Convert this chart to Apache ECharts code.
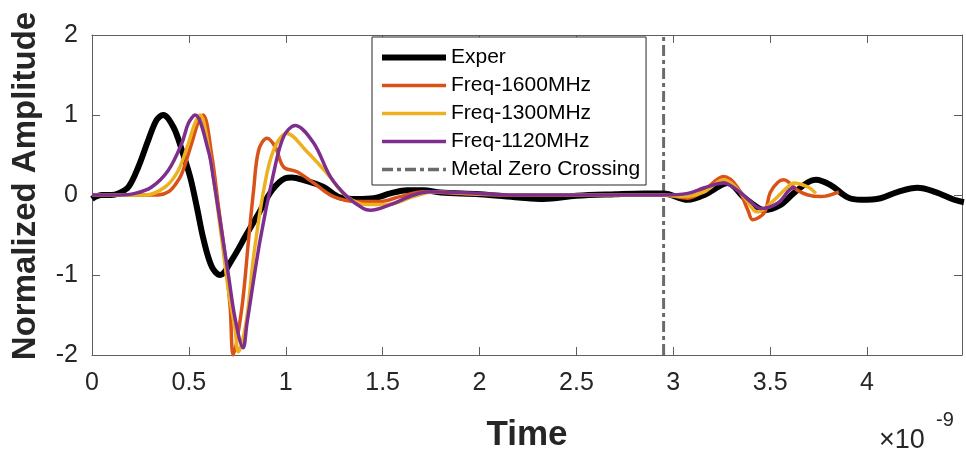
<!DOCTYPE html>
<html>
<head>
<meta charset="utf-8">
<script src="https://cdn.jsdelivr.net/npm/echarts@6/dist/echarts.min.js"></script>
<style>
html,body{margin:0;padding:0;background:#fff;}
#chart{width:966px;height:459px;}
</style>
</head>
<body>
<div id="chart"></div>
<script>
// Time in units of 1e-9 s
const xTicks = [0, 0.5, 1, 1.5, 2, 2.5, 3, 3.5, 4];
const yTicks = [-2, -1, 0, 1, 2];
const seriesNames = ['Exper', 'Freq-1600MHz', 'Freq-1300MHz', 'Freq-1120MHz', 'Metal Zero Crossing'];

const experT = [0,0.02,0.05,0.1,0.136,0.188,0.239,0.291,0.334,0.367,0.42,0.464,0.506,0.541,0.576,0.619,0.661,0.722,0.791,0.86,0.929,0.997,1.03,1.1,1.195,1.28,1.37,1.454,1.54,1.626,1.71,1.8,2.0,2.2,2.33,2.5,2.7,2.85,2.95,3.075,3.16,3.245,3.28,3.364,3.437,3.468,3.556,3.62,3.695,3.736,3.814,3.9,3.97,4.07,4.16,4.26,4.35,4.45,4.5];
const experV = [-0.05,-0.02,0,0,0.02,0.1,0.35,0.69,0.94,1.0,0.85,0.56,0.23,-0.15,-0.56,-0.9,-1.0,-0.81,-0.52,-0.23,0.06,0.21,0.22,0.18,0.1,-0.03,-0.05,-0.04,0.02,0.06,0.06,0.03,0.01,-0.03,-0.05,-0.01,0.01,0.02,0.02,-0.06,0.0,0.12,0.15,-0.03,-0.16,-0.19,-0.12,0.02,0.16,0.19,0.12,-0.03,-0.06,-0.04,0.04,0.09,0.04,-0.06,-0.09];

const f1600T = [0,0.2,0.343,0.395,0.43,0.464,0.515,0.55,0.574,0.619,0.653,0.687,0.713,0.729,0.774,0.808,0.834,0.86,0.903,0.946,0.989,1.058,1.144,1.247,1.368,1.488,1.59,1.71,1.9,2.2,2.6,2.95,3.075,3.16,3.26,3.33,3.385,3.41,3.47,3.5,3.54,3.57,3.64,3.695,3.76,3.855];
const f1600V = [0,0,0,0.04,0.13,0.27,0.65,0.92,1.0,0.48,-0.15,-0.77,-1.4,-2.0,-1.4,-0.56,0.06,0.56,0.71,0.6,0.35,0.29,0.15,-0.02,-0.08,-0.08,-0.02,0.04,0.02,0,0,0,-0.04,0.06,0.23,0.1,-0.19,-0.31,-0.22,0.03,0.16,0.19,0.06,0.0,-0.02,0.04];

const f1300T = [0,0.15,0.274,0.377,0.446,0.498,0.532,0.558,0.601,0.636,0.67,0.704,0.739,0.755,0.795,0.834,0.886,0.937,1.006,1.11,1.213,1.316,1.42,1.523,1.66,1.764,2.0,2.5,2.95,3.05,3.16,3.26,3.35,3.416,3.437,3.504,3.59,3.62,3.695,3.736];
const f1300V = [0,0,0,0.1,0.31,0.65,0.9,1.0,0.6,0.06,-0.56,-1.19,-1.69,-1.96,-1.6,-0.77,0.06,0.56,0.77,0.54,0.27,-0.02,-0.12,-0.12,-0.02,0.04,0.01,0,0,-0.02,0.04,0.19,0.02,-0.19,-0.21,-0.1,0.1,0.15,0.1,0.02];

const f1120T = [0,0.134,0.222,0.308,0.394,0.464,0.498,0.532,0.601,0.627,0.653,0.704,0.739,0.78,0.8,0.868,0.937,0.989,1.049,1.144,1.23,1.316,1.40,1.437,1.54,1.66,1.747,1.9,2.2,2.95,3.075,3.16,3.26,3.33,3.416,3.45,3.54,3.62,3.633];
const f1120V = [0,0,0.02,0.1,0.31,0.65,0.9,1.0,0.55,0.2,-0.2,-1.0,-1.55,-1.91,-1.6,-0.56,0.27,0.73,0.87,0.65,0.23,-0.02,-0.17,-0.19,-0.12,0,0.04,0.03,0,0,0.02,0.09,0.15,0.06,-0.12,-0.17,-0.1,0.09,0.08];

const metalZeroT = [2.95, 2.95];
const metalZeroV = [-2, 2];

function zip(t, v) { return t.map((x, i) => [x, v[i]]); }

const FONT = '"Liberation Sans", Arial, sans-serif';
const AX = '#5e5e5e';

const chart = echarts.init(document.getElementById('chart'), null, {renderer: 'canvas'});

function xAx(pos, showLabels) {
  return {
    type: 'value', position: pos, min: 0, max: 4.49, interval: 0.5,
    axisLine: {show: true, onZero: false, lineStyle: {color: AX, width: 1}},
    axisTick: {show: true, inside: true, length: 8, lineStyle: {color: AX}},
    axisLabel: {show: showLabels, fontFamily: FONT, fontSize: 25, color: '#262626', margin: 16,
      showMaxLabel: false,
      formatter: v => (xTicks.indexOf(Math.round(v * 100) / 100) >= 0 ? String(v) : '')},
    splitLine: {show: false}
  };
}
function yAx(pos, showLabels) {
  return {
    type: 'value', position: pos, min: -2, max: 2, interval: 1,
    axisLine: {show: true, onZero: false, lineStyle: {color: AX, width: 1}},
    axisTick: {show: true, inside: true, length: 8, lineStyle: {color: AX}},
    axisLabel: {show: showLabels, fontFamily: FONT, fontSize: 25, color: '#262626', margin: 14,
      formatter: v => (yTicks.indexOf(v) >= 0 ? String(v) : '')},
    splitLine: {show: false}
  };
}

const colors = ['#000000', '#D95319', '#EDB120', '#7E2F8E', '#6b6b6b'];
const widths = [6, 3.5, 3.5, 3.5, 3];
const dashPattern = [11, 4, 4, 4];
const dataSets = [zip(experT, experV), zip(f1600T, f1600V), zip(f1300T, f1300V), zip(f1120T, f1120V), zip(metalZeroT, metalZeroV)];

const series = [0, 1, 2, 3, 4].map(i => ({
  name: seriesNames[i],
  type: 'line',
  data: dataSets[i],
  xAxisIndex: 0, yAxisIndex: 0,
  showSymbol: false, symbol: 'none',
  smooth: i === 4 ? false : 0.35,
  animation: false,
  z: i === 4 ? 1 : 2 + i,
  lineStyle: {color: colors[i], width: widths[i], type: i === 4 ? dashPattern : 'solid'},
  itemStyle: {color: colors[i]}
}));

chart.setOption({
  animation: false,
  backgroundColor: '#ffffff',
  grid: {left: 92, right: 4, top: 35, bottom: 104, containLabel: false},
  xAxis: [xAx('bottom', true), xAx('top', false)],
  yAxis: [yAx('left', true), yAx('right', false)],
  legend: {
    orient: 'vertical', left: 372, top: 37,
    padding: [10, 6, 5, 7],
    backgroundColor: '#ffffff', borderColor: '#262626', borderWidth: 1,
    itemWidth: 64, itemHeight: 20, itemGap: 7,
    itemStyle: {opacity: 0, borderWidth: 0},
    textStyle: {fontFamily: FONT, fontSize: 21, color: '#000000'},
    data: seriesNames.map((n, i) => ({
      name: n,
      itemStyle: {opacity: 0, borderWidth: 0},
      lineStyle: {color: colors[i], width: i === 0 ? 6 : 3.5, type: i === 4 ? dashPattern : 'solid'}
    }))
  },
  graphic: [
    {type: 'text', x: 26, y: 186, rotation: Math.PI / 2, style: {text: 'Normalized Amplitude', font: 'bold 33px ' + FONT, fill: '#262626', textAlign: 'center', textVerticalAlign: 'middle'}},
    {type: 'text', x: 527, y: 435, style: {text: 'Time', font: 'bold 35px ' + FONT, fill: '#262626', textAlign: 'center', textVerticalAlign: 'middle'}},
    {type: 'text', x: 879, y: 441, style: {text: '\u00d710', font: '27px ' + FONT, fill: '#262626', textAlign: 'left', textVerticalAlign: 'middle'}},
    {type: 'text', x: 936, y: 420, style: {text: '-9', font: '20px ' + FONT, fill: '#262626', textAlign: 'left', textVerticalAlign: 'middle'}}
  ],
  series: series
});
</script>
</body>
</html>
